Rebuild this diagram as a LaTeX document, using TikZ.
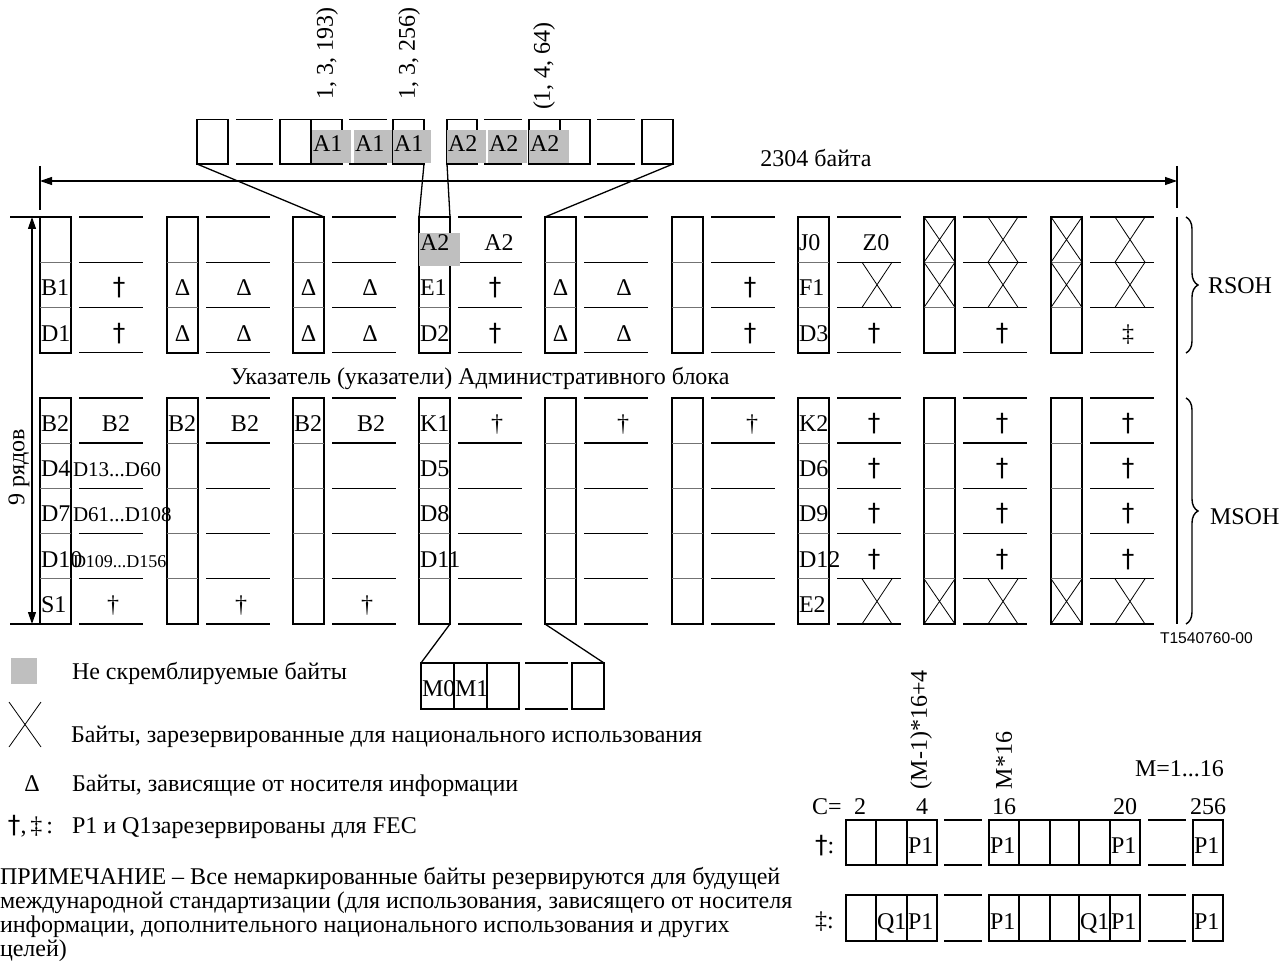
\documentclass[tikz,border=0pt]{standalone}
\usepackage{fontspec}
\setmainfont{Liberation Serif}
\newfontfamily\codefont{Liberation Sans}
\newfontfamily\dagfont{DejaVu Sans}
\usetikzlibrary{arrows.meta,decorations.pathreplacing}
\begin{document}
\begin{tikzpicture}[x=0.5pt,y=-0.5pt,
  every node/.style={inner sep=0pt,outer sep=0pt,font=\fontsize{12}{14}\selectfont},
  ln/.style={line width=0.65pt},
  nbox/.style={line width=0.95pt},
  sepl/.style={line width=0.55pt,draw=black!55},
  thinx/.style={line width=0.4pt},
  grayfill/.style={fill=black!25},
  lab/.style={anchor=base west},
  mid/.style={anchor=base},
  dagb/.style={anchor=base,font={\dagfont\fontsize{12.5}{14}\selectfont}},
  dim/.style={line width=0.6pt,{Triangle[length=6pt,width=4pt]}-{Triangle[length=6pt,width=4pt]}},
  brc/.style={decorate,decoration={brace,amplitude=6pt},line width=0.7pt},
  sml/.style={font=\fontsize{10.5}{12}\selectfont},
  tny/.style={font=\fontsize{9}{10}\selectfont},
]
\useasboundingbox (0,0) rectangle (1279,968);

% ---------- main grid ----------
\foreach \nx in {40,167,293,419,545,672,798,924,1051}{
  \draw[nbox] (\nx,217) rectangle ({\nx+31},352.7);
  \draw[nbox] (\nx,397.9) rectangle ({\nx+31},624);
  \foreach \yy in {262.2,307.4,443.1,488.3,533.5,578.8}
    \draw[sepl] (\nx,\yy) -- ({\nx+31},\yy);
  \foreach \yy in {217,262.2,307.4,352.7,397.9,443.1,488.3,533.5,578.8,624}
    \draw[ln] ({\nx+39},\yy) -- ({\nx+103},\yy);
}
% crossed (national use) cells
\foreach \nx in {924,1051}{
  \foreach \ya/\yb in {217/262.2,262.2/307.4,578.8/624}
    \draw[thinx] (\nx,\ya) -- ({\nx+31},\yb) ({\nx+31},\ya) -- (\nx,\yb);
}
\foreach \cx/\ya/\yb in {877/262.2/307.4,877/578.8/624,1003/217/262.2,1003/262.2/307.4,1003/578.8/624,1130/217/262.2,1130/262.2/307.4,1130/578.8/624}
  \draw[thinx] ({\cx-15},\ya) -- ({\cx+15},\yb) ({\cx+15},\ya) -- ({\cx-15},\yb);

% non-scrambled A2 in grid
\fill[grayfill] (419,233) rectangle (460,266);

% narrow column labels
\foreach \nm/\nx/\yy/\t in {nA/419/250.6/A2, nJ/798/250.6/J0,
  nB1/40/295.8/B1, nE1/419/295.8/E1, nF1/798/295.8/F1,
  nD1/40/341/D1, nD2/419/341/D2, nD3/798/341/D3,
  nBa/40/431.5/B2, nBb/167/431.5/B2, nBc/293/431.5/B2, nK1/419/431.5/K1, nK2/798/431.5/K2,
  nD4/40/476.7/D4, nD5/419/476.7/D5, nD6/798/476.7/D6,
  nD7/40/521.9/D7, nD8/419/521.9/D8, nD9/798/521.9/D9,
  nDa/40/567.2/D10, nDb/419/567.2/D11, nDc/798/567.2/D12,
  nS1/40/612.4/S1, nE2/798/612.4/E2}
  \node[lab] (\nm) at ({\nx+1},\yy) {\t};
\foreach \nm/\cx/\yy in {dA/182.5/295.8, dB/308.5/295.8, dC/560.5/295.8,
  dD/182.5/341, dE/308.5/341, dF/560.5/341}
  \node[mid] (\nm) at (\cx,\yy) {Δ};

% wide column symbols
\foreach \nm/\cx/\yy/\t in {wA/499/250.6/A2, wZ/876/250.6/Z0,
  w22/244/295.8/Δ, w23/370/295.8/Δ, w25/624/295.8/Δ,
  w32/244/341/Δ, w33/370/341/Δ, w35/624/341/Δ, w39/1128/341/‡,
  w51/116/431.5/B2, w52/245/431.5/B2, w53/371/431.5/B2,
  w54/497/431.5/†, w55/623/431.5/†, w56/752/431.5/†,
  w91/113/612.4/†, w92/241/612.4/†, w93/367/612.4/†}
  \node[mid] (\nm) at (\cx,\yy) {\t};
\foreach \nm/\cx/\yy in {w21/119/295.8, w24/495/295.8, w26/750/295.8,
  w31/119/341, w34/495/341, w36/750/341, w37/874/341, w38/1002/341,
  w57/874/431.5, w58/1002/431.5, w59/1128/431.5,
  w67/874/476.7, w68/1002/476.7, w69/1128/476.7,
  w77/874/521.9, w78/1002/521.9, w79/1128/521.9,
  w87/874/567.2, w88/1002/567.2, w89/1128/567.2}
  \node[dagb] (\nm) at (\cx,\yy) {†};
\node[lab,sml] (dr1) at (73,476.7) {D13...D60};
\node[lab,sml] (dr2) at (73,521.9) {D61...D108};
\node[lab,tny] (dr3) at (73,567.2) {D109...D156};

\node[mid] (ptr) at (480,384) {Указатель (указатели) Административного блока};

% ---------- top expanded strip ----------
\draw[ln] (197,119.5) rectangle (228,164);
\draw[ln] (236,119.5) -- (273,119.5) (236,164) -- (273,164);
\draw[ln] (280,119.5) rectangle (311,164);
\draw[ln] (311,119.5) rectangle (342,164);
\draw[ln] (349,119.5) -- (387,119.5) (349,164) -- (387,164);
\draw[ln] (393,119.5) rectangle (424,164);
\draw[ln] (447,119.5) rectangle (477,164);
\draw[ln] (484,119.5) -- (522,119.5) (484,164) -- (522,164);
\draw[ln] (529,119.5) rectangle (560,164);
\draw[ln] (560,119.5) rectangle (590,164);
\draw[ln] (597,119.5) -- (635,119.5) (597,164) -- (635,164);
\draw[ln] (642,119.5) rectangle (673,164);
\foreach \nm/\ga/\gb/\t in {ta/312/351/A1, tb/354/392/A1, tc/393/431/A1, td/447/486/A2, te/488/527/A2, tf/529/569/A2}{
  \fill[grayfill] (\ga,130) rectangle (\gb,163);
  \node[lab] (\nm) at ({\ga+1},152) {\t};
}
\node[rotate=90,anchor=west] (l1) at (327,100) {1, 3, 193)};
\node[rotate=90,anchor=west] (l2) at (409,100) {1, 3, 256)};
\node[rotate=90,anchor=west] (l3) at (544,110) {(1, 4, 64)};

% connectors top strip -> grid
\coordinate (s1) at (197,164); \coordinate (g3) at (324,217);
\coordinate (s2) at (424,164); \coordinate (g4a) at (419,217);
\coordinate (s3) at (447,164); \coordinate (g4b) at (450,217);
\coordinate (s4) at (673,164); \coordinate (g5) at (545,217);
\draw[ln] (s1) -- (g3);
\draw[ln] (s2) -- (g4a);
\draw[ln] (s3) -- (g4b);
\draw[ln] (s4) -- (g5);

% ---------- dimensions ----------
\coordinate (dL) at (40,181); \coordinate (dR) at (1177,181);
\draw[dim] (dL) -- (dR);
\draw[ln] (40,166) -- (40,210);
\draw[ln] (1177,166) -- (1177,208);
\node[mid] (bytes) at (816,167) {2304 байта};

\coordinate (vT) at (32,217); \coordinate (vB) at (32,624);
\draw[dim] (vT) -- (vB);
\draw[ln] (10,217) -- (40,217) (10,624) -- (40,624);
\node[rotate=90] (rows) at (19,467) {9 рядов};

\draw[line width=1pt] (1177,217) -- (1177,624);
\draw[brc] (1186,217) -- (1186,353);
\node[lab] (rsoh) at (1208,293) {RSOH};
\draw[brc] (1186,398) -- (1186,624);
\node[lab] (msoh) at (1210,524) {MSOH};
\node[lab,font={\codefont\fontsize{7.8}{9}\selectfont}] (tag) at (1160,643) {T1540760-00};

% ---------- bottom M0/M1 strip ----------
\draw[ln] (421,663) rectangle (454,709);
\draw[ln] (454,663) rectangle (487,709);
\draw[ln] (487,663) rectangle (519,709);
\draw[ln] (525,663) -- (568,663) (525,709) -- (568,709);
\draw[ln] (572,663) rectangle (604,709);
\node[lab] (m0) at (422,696) {M0};
\node[lab] (m1) at (455,696) {M1};
\coordinate (k1) at (450,624); \coordinate (mL) at (421,663);
\coordinate (k5) at (545,624); \coordinate (mR) at (604,663);
\draw[ln] (k1) -- (mL);
\draw[ln] (k5) -- (mR);

% ---------- legend ----------
\fill[grayfill] (11,658) rectangle (37,684);
\node[lab] (lg1) at (72,679) {Не скремблируемые байты};
\draw[thinx] (9,702) -- (41,747) (41,702) -- (9,747);
\node[lab] (lg2) at (71,742) {Байты, зарезервированные для национального использования};
\node[mid] (lgd) at (32,791) {Δ};
\node[lab] (lg3) at (72,791) {Байты, зависящие от носителя информации};
\node[lab] (lgs) at (8,833) {{\dagfont\fontsize{12.5}{14}\selectfont †},\,‡\,:};
\node[lab] (lg4) at (72,833) {P1 и Q1зарезервированы для FEC};
\node[lab] (n1) at (0,884) {ПРИМЕЧАНИЕ – Все немаркированные байты резервируются для будущей};
\node[lab] (n2) at (0,908) {международной стандартизации (для использования, зависящего от носителя};
\node[lab] (n3) at (0,932) {информации, дополнительного национального использования и других};
\node[lab] (n4) at (0,956) {целей)};

% ---------- FEC layout ----------
\node[lab] (ceq) at (812,814) {C=};
\foreach \nm/\cx/\t in {c2/860/2, c4/922/4, c16/1004/16, c20/1125/20, c256/1208/256}
  \node[mid] (\nm) at (\cx,814) {\t};
\node[lab] (mrange) at (1135,776) {M=1...16};
\node[rotate=90,anchor=west] (f1) at (921,789) {(M-1)*16+4};
\node[rotate=90,anchor=west] (f2) at (1004,789) {M*16};
\node[lab] (dg) at (815,853) {{\dagfont\fontsize{12.5}{14}\selectfont †}:};
\node[lab] (ddg) at (815,928) {‡:};
\foreach \yt/\yb in {820/865,895/941}{
  \foreach \a/\b in {846/876,876/907,907/937,989/1019,1019/1050,1050/1079,1079/1110,1110/1140,1193/1223}
    \draw[ln] (\a,\yt) rectangle (\b,\yb);
  \draw[ln] (944,\yt) -- (982,\yt) (944,\yb) -- (982,\yb);
  \draw[ln] (1148,\yt) -- (1186,\yt) (1148,\yb) -- (1186,\yb);
}
\foreach \nm/\bx/\yy/\t in {p1/908/853/P1, p2/990/853/P1, p3/1111/853/P1, p4/1194/853/P1,
  q1/877/929/Q1, p5/908/929/P1, p6/990/929/P1, q2/1080/929/Q1, p7/1111/929/P1, p8/1194/929/P1}
  \node[lab] (\nm) at (\bx,\yy) {\t};
\end{tikzpicture}
\end{document}
